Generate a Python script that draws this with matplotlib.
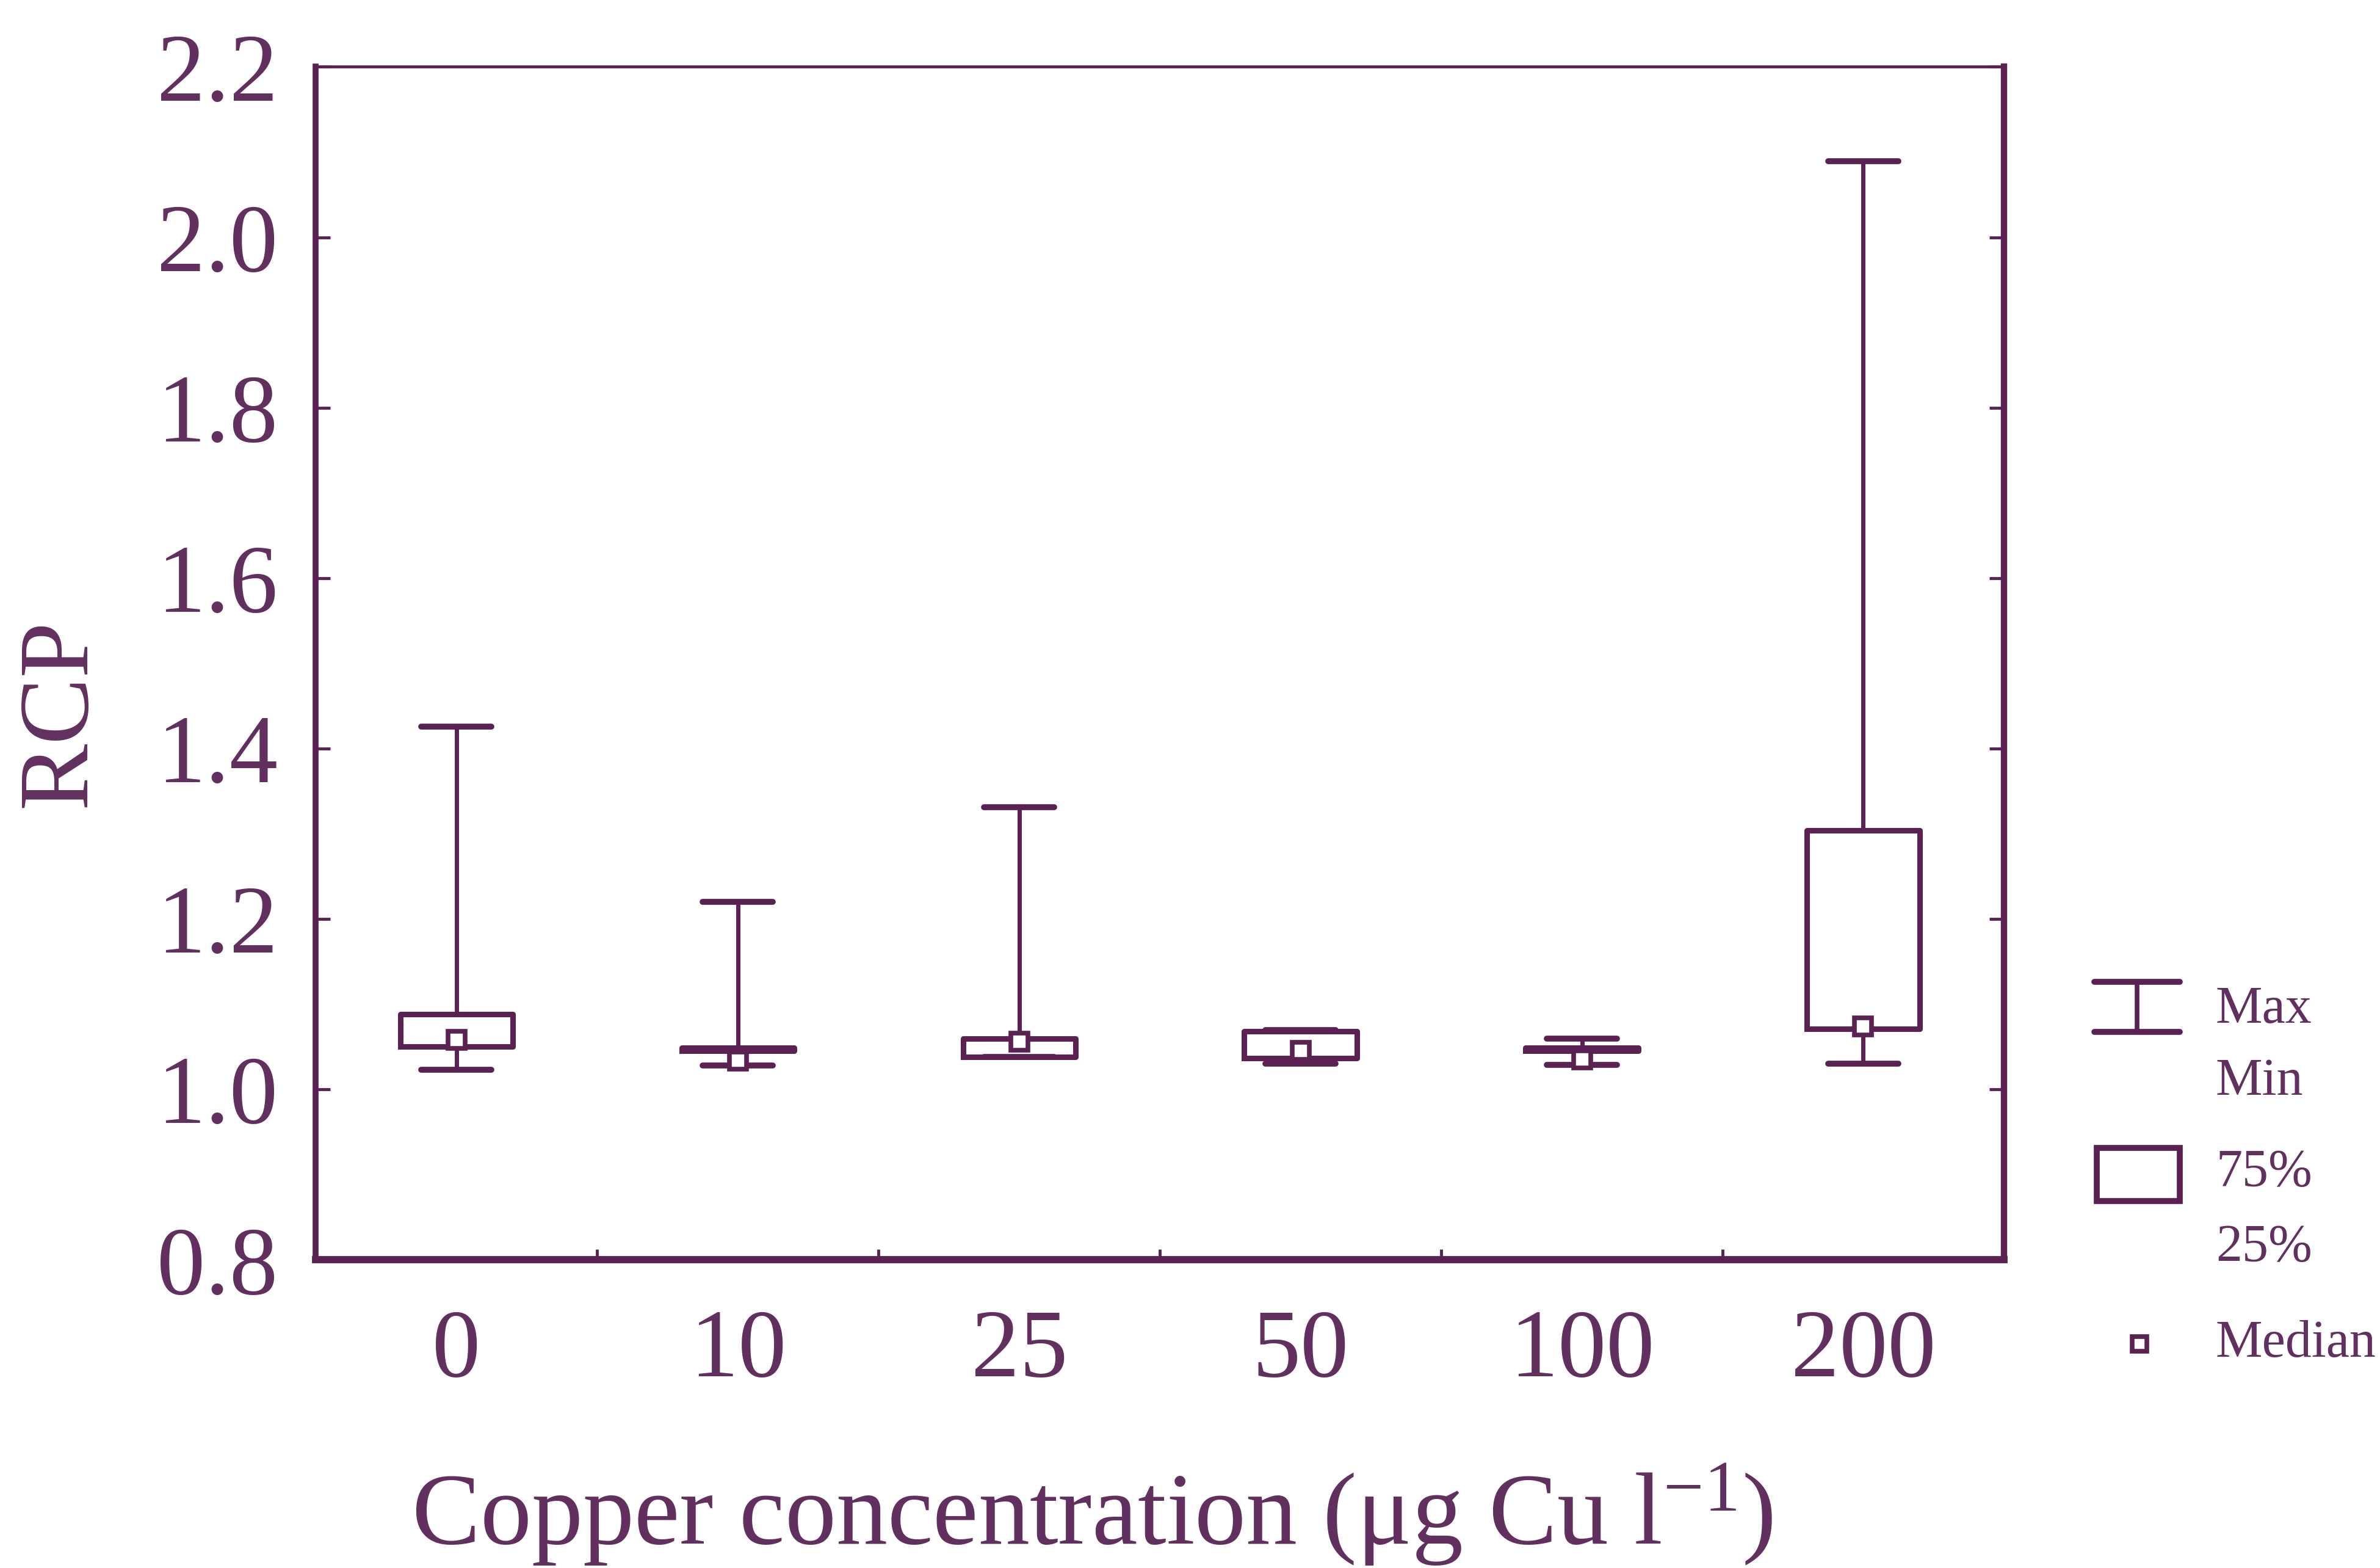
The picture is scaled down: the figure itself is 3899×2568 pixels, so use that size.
import matplotlib.pyplot as plt

plt.rcParams['font.family'] = ['Liberation Serif', 'DejaVu Serif']
plt.rcParams['mathtext.fontset'] = 'custom'
plt.rcParams['mathtext.rm'] = 'Liberation Serif'
plt.rcParams['mathtext.it'] = 'Liberation Serif:italic'

# RCP per copper treatment (min / quartiles / median / max)
categories = ['0', '10', '25', '50', '100', '200']
mins = [1.023, 1.028, 1.038, 1.030, 1.029, 1.030]
q1 = [1.050, 1.045, 1.038, 1.037, 1.045, 1.071]
medians = [1.058, 1.034, 1.056, 1.045, 1.035, 1.074]
q3 = [1.088, 1.049, 1.060, 1.068, 1.049, 1.304]
maxs = [1.426, 1.220, 1.331, 1.070, 1.060, 2.089]

line_col = '#5a2152'
text_col = '#62305f'

fig = plt.figure(figsize=(38.99, 25.68), dpi=100)
ax = fig.add_axes([0.1327, 0.1965, 0.7093, 0.7609])

stats = []
for i, c in enumerate(categories):
    stats.append(dict(label=c, whislo=mins[i], q1=q1[i], med=medians[i],
                      q3=q3[i], whishi=maxs[i], fliers=[]))

pos = list(range(len(categories)))
ax.bxp(stats, positions=pos, widths=0.40, capwidths=0.25, showfliers=False,
       boxprops=dict(color=line_col, linewidth=6.5),
       whiskerprops=dict(color=line_col, linewidth=5),
       capprops=dict(color=line_col, linewidth=7, solid_capstyle='round'),
       medianprops=dict(linewidth=0))
ax.plot(pos, medians, 's', ms=20, mfc='white', mec=line_col, mew=5.5, zorder=5)

ax.set_xlim(-0.5, 5.5)
ax.set_ylim(0.8, 2.2)
ax.set_yticks([0.8, 1.0, 1.2, 1.4, 1.6, 1.8, 2.0, 2.2])
ax.set_yticklabels(['0.8', '1.0', '1.2', '1.4', '1.6', '1.8', '2.0', '2.2'])
ax.set_xticks(pos)
ax.set_xticklabels(categories)
ax.set_xticks([0.5, 1.5, 2.5, 3.5, 4.5], minor=True)

ax.tick_params(axis='x', which='major', length=0, pad=58, labelsize=114, labelcolor=text_col)
ax.tick_params(axis='x', which='minor', direction='in', length=12, width=3.5, color=line_col)
ax.tick_params(axis='y', direction='in', length=17, width=3.5, color=line_col,
               right=True, pad=45, labelsize=114, labelcolor=text_col)

for side, lw in [('left', 7), ('bottom', 8.5), ('top', 3.5), ('right', 7.5)]:
    ax.spines[side].set_linewidth(lw)
    ax.spines[side].set_color(line_col)

ax.set_ylabel('RCP', fontsize=118, color=text_col, va='center')
ax.yaxis.set_label_coords(-0.151, 0.458)
ax.set_xlabel(r'Copper concentration (μg Cu l$^{-1}$)', fontsize=121, color=text_col)
ax.xaxis.set_label_coords(0.46, -0.214)
ax.xaxis.label.set_va('center')

# key drawn to the right of the plot
lg = fig.add_axes([0, 0, 1, 1], facecolor='none')
lg.set_xlim(0, 1)
lg.set_ylim(0, 1)
lg.axis('off')
lg.plot([0.880, 0.916], [0.374, 0.374], color=line_col, lw=7, solid_capstyle='round')
lg.plot([0.880, 0.916], [0.342, 0.342], color=line_col, lw=7, solid_capstyle='round')
lg.plot([0.898, 0.898], [0.342, 0.374], color=line_col, lw=5.5)
lg.add_patch(plt.Rectangle((0.881, 0.234), 0.035, 0.034, fill=False,
                           edgecolor=line_col, lw=7))
lg.plot([0.899], [0.143], 's', ms=17, mfc='white', mec=line_col, mew=5.5)
for txt, y in [('Max', 0.356), ('Min', 0.310), ('75%', 0.252), ('25%', 0.204), ('Median', 0.143)]:
    lg.text(0.931, y, txt, fontsize=62, color=text_col, va='center', ha='left')

fig.savefig('out.png', dpi=100)
